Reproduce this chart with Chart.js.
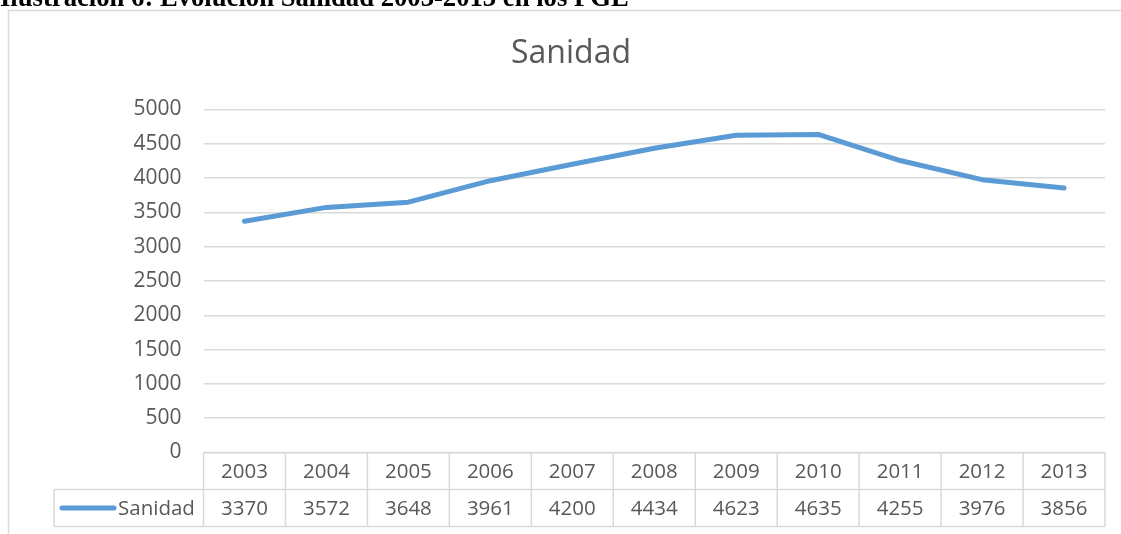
<!DOCTYPE html>
<html>
<head>
<meta charset="utf-8">
<script src="https://cdn.jsdelivr.net/npm/chart.js@4"></script>
<style>
  html, body { margin: 0; padding: 0; background: #fff; overflow: hidden; }
  #wrap { position: relative; width: 1121px; height: 534px; }
  #caption { position: absolute; left: 0; top: -18.5px; font: bold 26.67px "Liberation Serif", "Times New Roman", serif; line-height: 30px; color: #000; white-space: nowrap; z-index: 2; }
  canvas { position: absolute; left: 0; top: 0; }
</style>
</head>
<body>
<div id="wrap">
  <div id="caption">Ilustración 6: Evolución Sanidad 2003-2013 en los PGE</div>
  <canvas id="c" width="1121" height="534"></canvas>
</div>
<script>
const years = ['2003','2004','2005','2006','2007','2008','2009','2010','2011','2012','2013'];
const sanidad = [3370, 3572, 3648, 3961, 4200, 4434, 4623, 4635, 4255, 3976, 3856];
const seriesName = 'Sanidad';
const chartTitle = 'Sanidad';

const GRID = '#D9D9D9';
const TEXT = '#595959';
const LINE = '#5B9BD5';

const framePlugin = {
  id: 'frame',
  beforeDraw(chart) {
    const ctx = chart.ctx;
    ctx.save();
    ctx.strokeStyle = GRID;
    ctx.lineWidth = 1.5;
    ctx.beginPath();
    ctx.moveTo(8.5, 600);
    ctx.lineTo(8.5, 10.5);
    ctx.lineTo(1130, 10.5);
    ctx.stroke();
    ctx.restore();
  }
};

const tablePlugin = {
  id: 'dataTable',
  afterDraw(chart) {
    const ctx = chart.ctx;
    const xs = chart.scales.x;
    const area = chart.chartArea;
    const n = years.length;
    const colW = (area.right - area.left) / n;
    const top = area.bottom;
    const mid = top + 37;
    const bot = mid + 37;
    const legLeft = 54;
    ctx.save();
    ctx.strokeStyle = GRID;
    ctx.lineWidth = 1.5;
    ctx.beginPath();
    ctx.moveTo(area.left, top); ctx.lineTo(area.right, top);
    ctx.moveTo(legLeft, mid); ctx.lineTo(area.right, mid);
    ctx.moveTo(legLeft, bot); ctx.lineTo(area.right, bot);
    for (let i = 0; i <= n; i++) {
      const x = area.left + i * colW;
      ctx.moveTo(x, top); ctx.lineTo(x, bot);
    }
    ctx.moveTo(legLeft, mid); ctx.lineTo(legLeft, bot);
    ctx.stroke();

    ctx.fillStyle = TEXT;
    ctx.font = '20.5px "Open Sans"';
    ctx.textAlign = 'center';
    ctx.textBaseline = 'middle';
    for (let i = 0; i < n; i++) {
      const cx = xs.getPixelForValue(i);
      ctx.fillText(years[i], cx, (top + mid) / 2 + 1);
      ctx.fillText(String(sanidad[i]), cx, (mid + bot) / 2 + 1);
    }
    const ky = (mid + bot) / 2;
    ctx.strokeStyle = LINE;
    ctx.lineWidth = 5;
    ctx.lineCap = 'round';
    ctx.beginPath();
    ctx.moveTo(62, ky); ctx.lineTo(114, ky);
    ctx.stroke();
    ctx.textAlign = 'left';
    ctx.fillText(seriesName, 118, ky + 1);
    ctx.restore();
  }
};

new Chart(document.getElementById('c'), {
  type: 'line',
  data: {
    labels: years,
    datasets: [{
      label: seriesName,
      data: sanidad,
      borderColor: LINE,
      backgroundColor: LINE,
      borderWidth: 5,
      pointRadius: 0,
      pointHoverRadius: 0,
      tension: 0,
      borderCapStyle: 'round',
      borderJoinStyle: 'round',
      fill: false
    }]
  },
  options: {
    responsive: false,
    animation: false,
    events: [],
    layout: { padding: { left: 37, right: 16, top: 0, bottom: 81.5 } },
    plugins: {
      legend: { display: false },
      tooltip: { enabled: false },
      title: {
        display: true,
        text: chartTitle,
        color: TEXT,
        font: { family: 'Open Sans', size: 32, weight: 'normal', lineHeight: 1.2 },
        padding: { top: 35, bottom: 36 }
      }
    },
    scales: {
      x: {
        display: false,
        offset: true
      },
      y: {
        min: 0,
        max: 5000,
        ticks: {
          stepSize: 500,
          color: TEXT,
          font: { family: 'Open Sans', size: 21 },
          padding: 22,
          callback: (v) => String(v)
        },
        grid: { color: GRID, lineWidth: 1.5, drawTicks: false },
        border: { display: false },
        afterFit(scale) { scale.width = 166.5; }
      }
    }
  },
  plugins: [framePlugin, tablePlugin]
});
</script>
</body>
</html>
